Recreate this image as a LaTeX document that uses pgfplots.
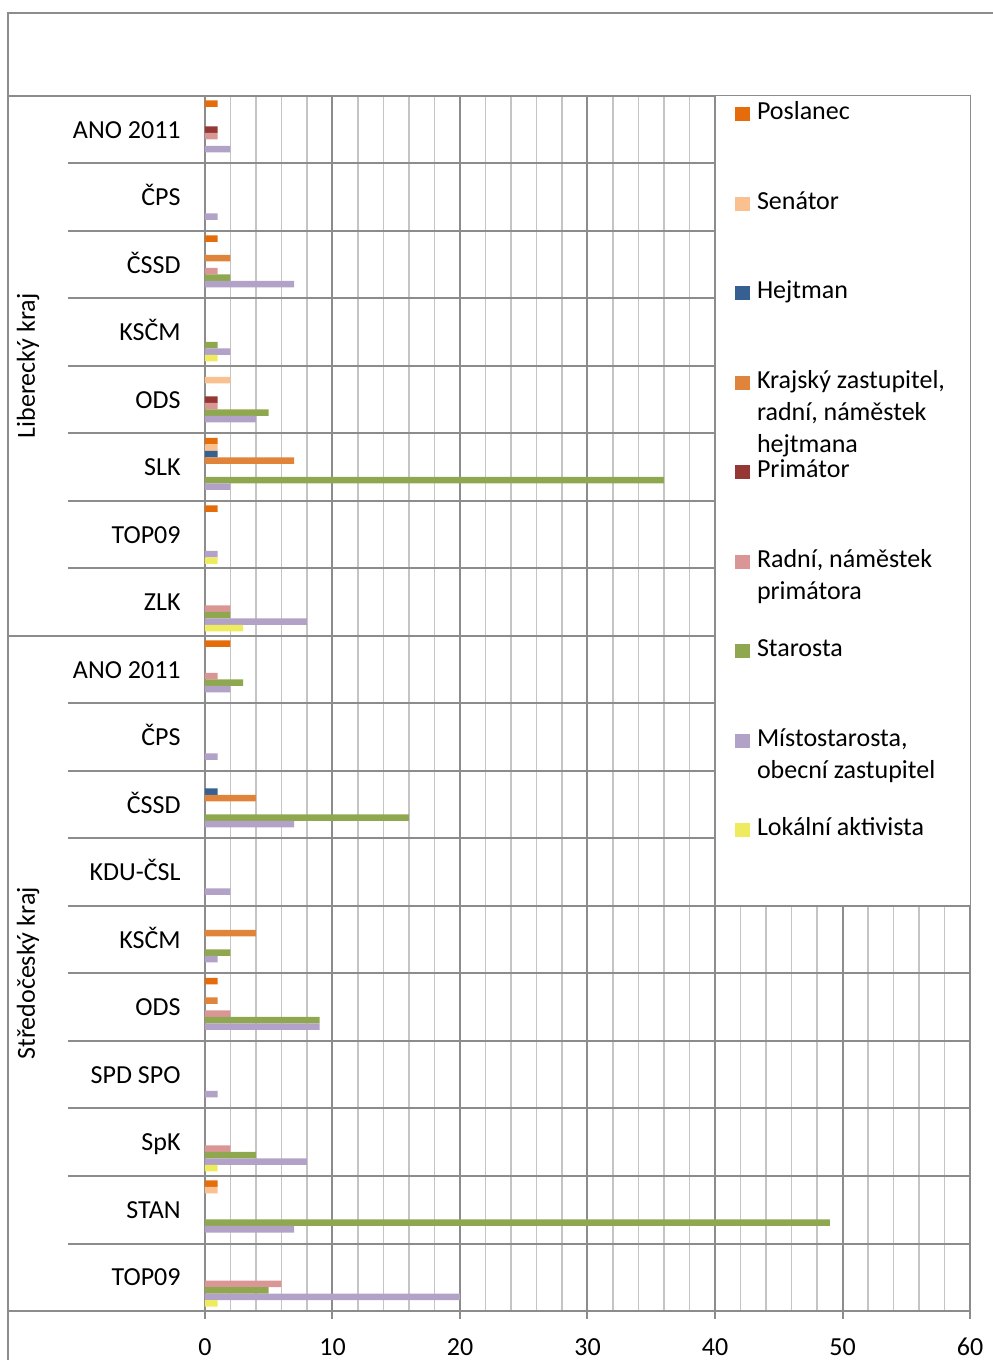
\documentclass[border=0pt]{standalone}
\usepackage{fontspec}
\setmainfont{Carlito}
\usepackage{pgfplots}
\pgfplotsset{compat=1.18}
\usepackage{pgfplotstable}

\definecolor{cP}{HTML}{E46C0A}
\definecolor{cS}{HTML}{FAC090}
\definecolor{cH}{HTML}{376092}
\definecolor{cK}{HTML}{E1843B}
\definecolor{cPr}{HTML}{953735}
\definecolor{cR}{HTML}{D99694}
\definecolor{cSt}{HTML}{8FA84F}
\definecolor{cM}{HTML}{B3A2C7}
\definecolor{cL}{HTML}{EEEC5E}
\definecolor{lc}{HTML}{8C8C8C}
\definecolor{mgc}{HTML}{C4C4C4}

\newcommand\fsz{\fontsize{13pt}{16pt}\selectfont}
\newcommand\lent[1]{\smash{\parbox[t]{105pt}{\raggedright\fsz #1}}}

\pgfplotstableread{
y  P S H K Pr R St M  L
17 1 0 0 0 1  1 0  2  0
16 0 0 0 0 0  0 0  1  0
15 1 0 0 2 0  1 2  7  0
14 0 0 0 0 0  0 1  2  1
13 0 2 0 0 1  1 5  4  0
12 1 1 1 7 0  0 36 2  0
11 1 0 0 0 0  0 0  1  1
10 0 0 0 0 0  2 2  8  3
9  2 0 0 0 0  1 3  2  0
8  0 0 0 0 0  0 0  1  0
7  0 0 1 4 0  0 16 7  0
6  0 0 0 0 0  0 0  2  0
5  0 0 0 4 0  0 2  1  0
4  1 0 0 1 0  2 9  9  0
3  0 0 0 0 0  0 0  1  0
2  0 0 0 0 0  2 4  8  1
1  1 1 0 0 0  0 49 7  0
0  0 0 0 0 0  6 5  20 1
}\data

\begin{document}
\begin{tikzpicture}
\useasboundingbox (-102.5pt,-24.5pt) rectangle (393.5pt,655.5pt);
\draw[lc, line width=1pt] (-98.5pt,-26pt) -- (-98.5pt,649pt) -- (395pt,649pt);
\begin{axis}[
  at={(0pt,0pt)}, anchor=south west,
  scale only axis, width=382.5pt, height=607.5pt,
  xmin=0, xmax=60, ymin=-0.5, ymax=17.5,
  enlargelimits=false, clip=false,
  xbar, bar width=3.25pt,
  xtick={0,10,...,60}, minor x tick num=4,
  xtick pos=lower,
  tick align=outside, major tick length=4pt, minor tick length=0pt,
  xtick style={lc, line width=1pt},
  ytick={0,...,17},
  yticklabels={TOP09,STAN,SpK,SPD SPO,ODS,KSČM,KDU-ČSL,ČSSD,ČPS,ANO 2011,ZLK,TOP09,SLK,ODS,KSČM,ČSSD,ČPS,ANO 2011},
  ytick style={draw=none},
  xmajorgrids, xminorgrids,
  major grid style={lc, line width=1pt},
  minor grid style={mgc, line width=0.8pt},
  axis line style={lc, line width=1pt},
  /pgf/number format/assume math mode=true,
  xticklabel style={font=\fsz, inner sep=0pt, anchor=north, yshift=-9.5pt},
  yticklabel style={font=\fsz, inner sep=0pt, anchor=base east, xshift=-8pt, yshift=-4.18pt},
  legend cell align=left,
  legend style={at={(0.66667,1)}, anchor=north west, xshift=10pt, yshift=-5.65pt,
    draw=none, fill=none, inner sep=0pt, outer sep=0pt,
    row sep=37pt, column sep=3.5pt, font=\fsz,
    nodes={inner sep=0pt, outer sep=0pt}},
  legend image code/.code={\path[#1,/tikz/.cd,draw=none] (0pt,0pt) rectangle (7.5pt,7pt);},
  x filter/.expression={x==0 ? nan : x},
]
% category separators
\pgfplotsinvokeforeach{0.5,1.5,2.5,3.5,4.5,5.5,6.5,7.5,8.5,10.5,11.5,12.5,13.5,14.5,15.5,16.5}{
  \draw[lc, line width=1pt] (axis cs:-10.75,#1) -- (axis cs:60,#1);
}
\pgfplotsinvokeforeach{-0.5,9.5,17.5}{
  \draw[lc, line width=1pt] (axis cs:-15.45,#1) -- (axis cs:60,#1);
}
% legend background box
\fill[white] (axis cs:40,5.5) rectangle (axis cs:60,17.5);
\draw[lc, line width=1pt] (axis cs:40,17.5) -- (axis cs:40,5.5) -- (axis cs:60,5.5);
% group labels
\node[rotate=90, font=\fsz] at (axis cs:-13.88,13.5) {Liberecký kraj};
\node[rotate=90, font=\fsz] at (axis cs:-13.88,4.5) {Středočeský kraj};

\addplot[bar shift=13pt, fill=cP, draw=none] table[x=P, y=y] {\data};
\addlegendentry{\lent{Poslanec}}
\addplot[bar shift=9.75pt, fill=cS, draw=none] table[x=S, y=y] {\data};
\addlegendentry{\lent{Senátor}}
\addplot[bar shift=6.5pt, fill=cH, draw=none] table[x=H, y=y] {\data};
\addlegendentry{\lent{Hejtman}}
\addplot[bar shift=3.25pt, fill=cK, draw=none] table[x=K, y=y] {\data};
\addlegendentry{\lent{Krajský zastupitel,\\radní, náměstek\\hejtmana}}
\addplot[bar shift=0pt, fill=cPr, draw=none] table[x=Pr, y=y] {\data};
\addlegendentry{\lent{Primátor}}
\addplot[bar shift=-3.25pt, fill=cR, draw=none] table[x=R, y=y] {\data};
\addlegendentry{\lent{Radní, náměstek\\primátora}}
\addplot[bar shift=-6.5pt, fill=cSt, draw=none] table[x=St, y=y] {\data};
\addlegendentry{\lent{Starosta}}
\addplot[bar shift=-9.75pt, fill=cM, draw=none] table[x=M, y=y] {\data};
\addlegendentry{\lent{Místostarosta,\\obecní zastupitel}}
\addplot[bar shift=-13pt, fill=cL, draw=none] table[x=L, y=y] {\data};
\addlegendentry{\lent{Lokální aktivista}}
\end{axis}
\end{tikzpicture}
\end{document}
